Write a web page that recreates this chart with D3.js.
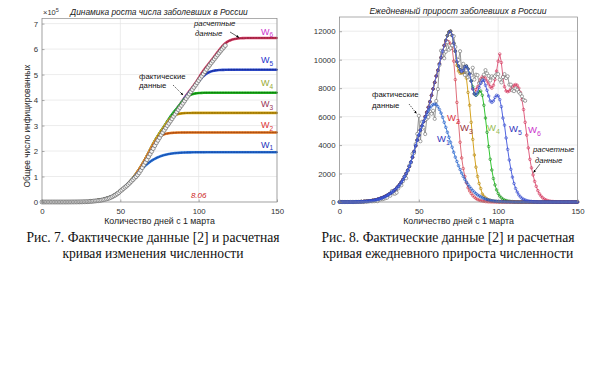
<!DOCTYPE html>
<html><head><meta charset="utf-8">
<script src="https://cdn.jsdelivr.net/npm/d3@7"></script>
<style>body{margin:0;background:#fff;} svg{display:block;font-family:"Liberation Sans",Arial,sans-serif;}</style>
</head><body>
<svg id="c" width="600" height="382"></svg>
<script>
// ---------- DATA ----------
const xTicks = [0, 50, 100, 150];
const yTicksLeft = [0, 1, 2, 3, 4, 5, 6, 7];            // ×10^5
const yTicksRight = [0, 2000, 4000, 6000, 8000, 10000, 12000];

// actual daily new cases, day 0 .. 117 (day 1 = 1 March)
const actualDaily = [0,
 0,1,0,0,0,1,6,7,0,3, 8,6,11,14,4,30,21,33,52,54, 53,61,71,57,163,182,196,228,270,302, 501,
 440,771,601,582,658,954,1154,1175,1459,1786, 1667,2186,2558,2774,3388,3448,4070,4785,6060,4268,
 5642,5236,4774,5849,5966,6361,6198,6411,5841,7099,
 7933,9623,10633,10581,10102,10559,11231,10699,10817,11012, 11656,10899,10028,9974,10598,9200,9709,8926,9263,8764,
 8849,8894,9434,8599,8946,8915,8338,8371,8572,8952, 9268,
 9035,8863,8536,8831,8726,8855,8984,8985,8595,8404, 8779,8987,8706,8835,8246,8248,7843,7790,7972,7889,
 7728,7600,7425,7176,7113];

// shared model rise, days 0..53
const modelRise = [
 0,0,0,0,0,0,0,0,0,0,
 10,12,15,20,25,30,40,50,60,75,
 90,110,130,155,185,220,260,300,350,400,
 460,530,600,680,770,870,980,1100,1240,1400,
 1580,1780,2000,2230,2500,2800,3150,3550,3950,4350,
 4700,5050,5350,5650];
// W5 days 54..150
const w5Tail = [
 6000,6300,6650,7050,7500,7950,
 8400,8850,9250,9700,10150,10600,11000,11350,11700,11950,
 12000,11700,11150,10600,9850,9550,9300,9150,9250,9500,
 9550,9350,9000,8500,7950,7600,7500,7700,8050,8350,
 8550,8550,8200,7850,7450,7100,7000,7100,7350,7500,
 7450,7200,6700,5900,5400,4500,3700,2950,2300,1750,
 1300,950,700,500,360,260,190,140,100,70,
 50,35,25,15,10,5,0,0,0,0,
 0,0,0,0,0,0,0,0,0,0,
 0,0,0,0,0,0,0,0,0,0,
 0];
// W1 days 54..150
const w1Tail = [
 5900,6150,6400,6600,6750,6850,
 6880,6850,6700,6500,6250,5950,5600,5250,4900,4550,
 4200,3850,3500,3150,2850,2550,2280,2030,1800,1590,
 1400,1230,1070,930,800,690,590,500,430,365,
 305,255,210,175,145,115,92,75,60,48,
 38,30,24,18,14,10,7,5,3,2,
 1,0,0,0,0,0,0,0,0,0,
 0,0,0,0,0,0,0,0,0,0,
 0,0,0,0,0,0,0,0,0,0,
 0,0,0,0,0,0,0,0,0,0,
 0];
// W2 days 67..150
const w2Tail = [
 11250,11300,11250,
 11100,10800,9900,8600,7000,5600,4200,3100,2350,1800,
 1350,1000,780,600,450,340,250,180,130,95,
 70,50,35,25,15,10,5,0,0,0,
 0,0,0,0,0,0,0,0,0,0, 0,0,0,0,0,0,0,0,0,0, 0,0,0,0,0,0,0,0,0,0,
 0,0,0,0,0,0,0,0,0,0, 0,0,0,0,0,0,0,0,0,0,
 0];
// W3 days 74..150
const w3Tail = [
 9600,9200,9050,9050,9100,9050,
 8700,7700,6800,5600,4400,3300,2450,1800,1300,950,
 560,400,290,210,150,110,80,60,45,30,
 20,12,8,5,0,0,0,0,0,0,
 0,0,0,0,0,0,0,0,0,0, 0,0,0,0,0,0,0,0,0,0,
 0,0,0,0,0,0,0,0,0,0, 0,0,0,0,0,0,0,0,0,0,
 0];
// W4 days 84..150
const w4Tail = [
 8100,7600,7500,7600,7750,7800,
 7500,6800,5900,4900,3900,3000,2250,1650,1200,850,
 600,420,290,200,140,100,70,50,35,25,
 15,10,5,0,0,0,0,0,0,0,
 0,0,0,0,0,0,0,0,0,0, 0,0,0,0,0,0,0,0,0,0, 0,0,0,0,0,0,0,0,0,0,
 0];
// W6 days 86..150
const w6Tail = [
 7900,8100,8400,8650,
 8800,8800,8700,8500,8300,8100,8000,8200,8600,9200,
 9900,10400,9800,8800,8100,7800,7750,7800,7950,8100,
 8200,8250,8200,8000,7700,7200,6500,5600,4700,3800,
 3000,2400,1900,1450,1100,800,580,420,300,210,
 150,100,70,50,35,25,15,10,5,0,
 0,0,0,0,0,0,0,0,0,0,
 0];

const W5 = modelRise.concat(w5Tail);
const W1 = modelRise.concat(w1Tail);
const W2 = W5.slice(0, 67).concat(w2Tail);
const W3 = W5.slice(0, 74).concat(w3Tail);
const W4 = W5.slice(0, 84).concat(w4Tail);
const W6 = W5.slice(0, 86).concat(w6Tail);

const seriesNames = ["W6","W5","W4","W3","W2","W1"];
const seriesDaily = {W1, W2, W3, W4, W5, W6};

// ---------- STYLE ----------
const leftStyle = {
  W1:{line:"#3583e3", bead:"#1a50b0", lab:"#2233bb"},
  W2:{line:"#f08a30", bead:"#b04e10", lab:"#dd3333"},
  W3:{line:"#e2b020", bead:"#9a7400", lab:"#993355"},
  W4:{line:"#2fd02f", bead:"#0e800e", lab:"#99aa33"},
  W5:{line:"#3d5ee0", bead:"#1a2fa0", lab:"#2233cc"},
  W6:{line:"#e04a72", bead:"#a02040", lab:"#cc33cc"}
};
const rightStyle = {
  W1:{line:"#4a8fe2", mk:"#1f4fbf", lab:"#3333bb"},
  W2:{line:"#e0707c", mk:"#d03040", lab:"#dd3344"},
  W3:{line:"#d6a420", mk:"#b08000", lab:"#993344"},
  W4:{line:"#33c833", mk:"#118811", lab:"#99bb55"},
  W5:{line:"#5165e2", mk:"#2f45c8", lab:"#3333bb"},
  W6:{line:"#e06282", mk:"#d02850", lab:"#cc33cc"}
};

const svg = d3.select("#c");
const defs = svg.append("defs");
defs.append("marker").attr("id","ah").attr("viewBox","0 0 10 10").attr("refX",9).attr("refY",5)
  .attr("markerWidth",5).attr("markerHeight",5).attr("orient","auto")
  .append("path").attr("d","M0,1L10,5L0,9z").attr("fill","#000");

function frame(x, y, yTicks) {
  const g = svg.append("g");
  const [x0,x1] = x.range(), [y0,y1] = y.range();
  g.append("rect").attr("x",x0).attr("y",y1).attr("width",x1-x0).attr("height",y0-y1).attr("fill","#fff");
  g.selectAll(".gx").data(xTicks).join("line").attr("x1",d=>x(d)).attr("x2",d=>x(d)).attr("y1",y0).attr("y2",y1)
    .attr("stroke","#e4e4e4").attr("stroke-width",0.7);
  g.selectAll(".gy").data(yTicks).join("line").attr("x1",x0).attr("x2",x1).attr("y1",d=>y(d)).attr("y2",d=>y(d))
    .attr("stroke","#e4e4e4").attr("stroke-width",0.7);
  return g;
}
function axes(x, y, yTicks, fmt) {
  const [x0,x1] = x.range(), [y0,y1] = y.range();
  const ax = svg.append("g").attr("transform",`translate(0,${y0})`)
    .call(d3.axisBottom(x).tickValues(xTicks).tickSize(-2.5).tickPadding(6).tickFormat(d3.format("d")));
  const ay = svg.append("g").attr("transform",`translate(${x0},0)`)
    .call(d3.axisLeft(y).tickValues(yTicks).tickSize(-2.5).tickPadding(4).tickFormat(fmt));
  [ax,ay].forEach(a=>{a.select(".domain").remove();
    a.selectAll("line").attr("stroke","#777").attr("stroke-width",0.6);
    a.selectAll("text").attr("font-size",7.8).attr("fill","#333").attr("font-family","Liberation Sans, Arial, sans-serif");});
  svg.append("rect").attr("x",x0).attr("y",y1).attr("width",x1-x0).attr("height",y0-y1)
    .attr("fill","none").attr("stroke","#8a8a8a").attr("stroke-width",0.7);
}

// ---------- LEFT CHART ----------
const xL = d3.scaleLinear().domain([0,150]).range([42,277]);
const yL = d3.scaleLinear().domain([0,7.2]).range([202,18.5]);
frame(xL, yL, yTicksLeft);
const lineL = d3.line().x((d,i)=>xL(i)).y(d=>yL(d));
seriesNames.forEach(n=>{
  const cum = Array.from(d3.cumsum(seriesDaily[n])).map(v=>v/1e5);
  const st = leftStyle[n];
  svg.append("path").datum(cum).attr("d",lineL).attr("fill","none").attr("stroke",st.line).attr("stroke-width",2.6);
  svg.append("g").selectAll("circle").data(cum).join("circle")
    .attr("cx",(d,i)=>xL(i)).attr("cy",d=>yL(d)).attr("r",0.9).attr("fill",st.bead);
});
const actCum = Array.from(d3.cumsum(actualDaily)).map(v=>v/1e5);
svg.append("g").selectAll("circle").data(actCum).join("circle")
  .attr("cx",(d,i)=>xL(i)).attr("cy",d=>yL(d)).attr("r",2).attr("fill","#f4f4f4")
  .attr("stroke","#555").attr("stroke-width",0.6);
axes(xL, yL, yTicksLeft, d3.format("d"));

// left texts
svg.append("text").attr("x",43).attr("y",15).attr("font-size",7.5).attr("fill","#333")
  .html('×10<tspan dy="-3" font-size="5.5">5</tspan>');
svg.append("text").attr("x",159).attr("y",15).attr("text-anchor","middle").attr("font-size",8.4)
  .attr("font-style","italic").attr("fill","#222").text("Динамика роста числа заболевших в России");
svg.append("text").attr("transform","translate(30,126) rotate(-90)").attr("text-anchor","middle")
  .attr("font-size",8.4).attr("fill","#222").text("Общее число инфицированных");
svg.append("text").attr("x",(42+277)/2).attr("y",224).attr("text-anchor","middle").attr("font-size",8.8)
  .attr("fill","#222").text("Количество дней с 1 марта");
svg.append("text").attr("x",xL(100)).attr("y",198).attr("text-anchor","middle").attr("font-size",8)
  .attr("font-style","italic").attr("fill","#cc2222").text("8.06");
// W labels left
const wLabY = {W6:34.5, W5:63, W4:86, W3:107, W2:128, W1:147.5};
seriesNames.forEach(n=>{
  svg.append("text").attr("x",261).attr("y",wLabY[n]).attr("font-size",9).attr("fill",leftStyle[n].lab)
    .html(`W<tspan dy="2.5" font-size="6.5">${n.slice(1)}</tspan>`);
});
// annotations left
const annL1 = svg.append("text").attr("font-size",7.8).attr("fill","#111");
annL1.append("tspan").attr("x",139).attr("y",79).text("фактические");
annL1.append("tspan").attr("x",139).attr("y",88).text("данные");
svg.append("line").attr("x1",173).attr("y1",85).attr("x2",183).attr("y2",95).attr("stroke","#000")
  .attr("stroke-width",0.6).attr("stroke-dasharray","1.5,1").attr("marker-end","url(#ah)");
const annL2 = svg.append("text").attr("font-size",7.8).attr("font-style","italic").attr("fill","#111");
annL2.append("tspan").attr("x",194).attr("y",26).text("расчетные");
annL2.append("tspan").attr("x",195).attr("y",36).text("данные");
svg.append("line").attr("x1",230).attr("y1",32).attr("x2",239).attr("y2",37.5).attr("stroke","#000")
  .attr("stroke-width",0.6).attr("marker-end","url(#ah)");

// ---------- RIGHT CHART ----------
const xR = d3.scaleLinear().domain([0,150]).range([339.5,577.5]);
const yR = d3.scaleLinear().domain([0,13000]).range([202,17]);
frame(xR, yR, yTicksRight);
const lineR = d3.line().x((d,i)=>xR(i)).y(d=>yR(d));
function drawR(data, st, r) {
  svg.append("path").datum(data).attr("d",lineR).attr("fill","none").attr("stroke",st.line).attr("stroke-width",1);
  svg.append("g").selectAll("circle").data(data).join("circle")
    .attr("cx",(d,i)=>xR(i)).attr("cy",d=>yR(d)).attr("r",r).attr("fill","none")
    .attr("stroke",st.mk).attr("stroke-width",0.6);
}
["W6","W4","W3","W2"].forEach(n=>drawR(seriesDaily[n], rightStyle[n], 1.3));
// actual
svg.append("path").datum(actualDaily).attr("d",lineR).attr("fill","none").attr("stroke","#8c8c8c").attr("stroke-width",0.9);
svg.append("g").selectAll("circle").data(actualDaily).join("circle")
  .attr("cx",(d,i)=>xR(i)).attr("cy",d=>yR(d)).attr("r",1.6).attr("fill","#fff")
  .attr("stroke","#666").attr("stroke-width",0.6);
["W1","W5"].forEach(n=>drawR(seriesDaily[n], rightStyle[n], 1.3));
axes(xR, yR, yTicksRight, d3.format("d"));

svg.append("text").attr("x",458).attr("y",14).attr("text-anchor","middle").attr("font-size",8.6)
  .attr("font-style","italic").attr("fill","#222").text("Ежедневный прирост заболевших в России");
svg.append("text").attr("x",(339.5+577.5)/2).attr("y",224).attr("text-anchor","middle").attr("font-size",8.8)
  .attr("fill","#222").text("Количество дней с 1 марта");
const wLabR = {W1:[437,142], W2:[447,121], W3:[460,131], W4:[487,131], W5:[509,132], W6:[528,133]};
seriesNames.forEach(n=>{
  svg.append("text").attr("x",wLabR[n][0]).attr("y",wLabR[n][1]).attr("font-size",9.5).attr("fill",rightStyle[n].lab)
    .html(`W<tspan dy="2.5" font-size="7">${n.slice(1)}</tspan>`);
});
const annR1 = svg.append("text").attr("font-size",7.8).attr("fill","#111");
annR1.append("tspan").attr("x",372).attr("y",97).text("фактические");
annR1.append("tspan").attr("x",372).attr("y",108).text("данные");
svg.append("line").attr("x1",409).attr("y1",104).attr("x2",416.5).attr("y2",113.5).attr("stroke","#000")
  .attr("stroke-width",0.6).attr("stroke-dasharray","1.5,1").attr("marker-end","url(#ah)");
const annR2 = svg.append("text").attr("font-size",7.8).attr("font-style","italic").attr("fill","#111");
annR2.append("tspan").attr("x",533).attr("y",152).text("расчетные");
annR2.append("tspan").attr("x",535).attr("y",163).text("данные");
svg.append("line").attr("x1",540).attr("y1",164).attr("x2",533.5).attr("y2",172.5).attr("stroke","#000")
  .attr("stroke-width",0.6).attr("marker-end","url(#ah)");

// ---------- CAPTIONS ----------
const cap = [
  {x:153, lines:["Рис. 7. Фактические данные [2] и расчетная","кривая изменения численности"]},
  {x:448, lines:["Рис. 8. Фактические данные [2] и расчетная","кривая ежедневного прироста численности"]}
];
cap.forEach(c=>{
  const t = svg.append("text").attr("text-anchor","middle").attr("font-family","Liberation Serif, Times New Roman, serif")
    .attr("font-size",13.6).attr("fill","#111");
  c.lines.forEach((l,i)=>t.append("tspan").attr("x",c.x).attr("y",242+i*16).text(l));
});
</script>
</body></html>
